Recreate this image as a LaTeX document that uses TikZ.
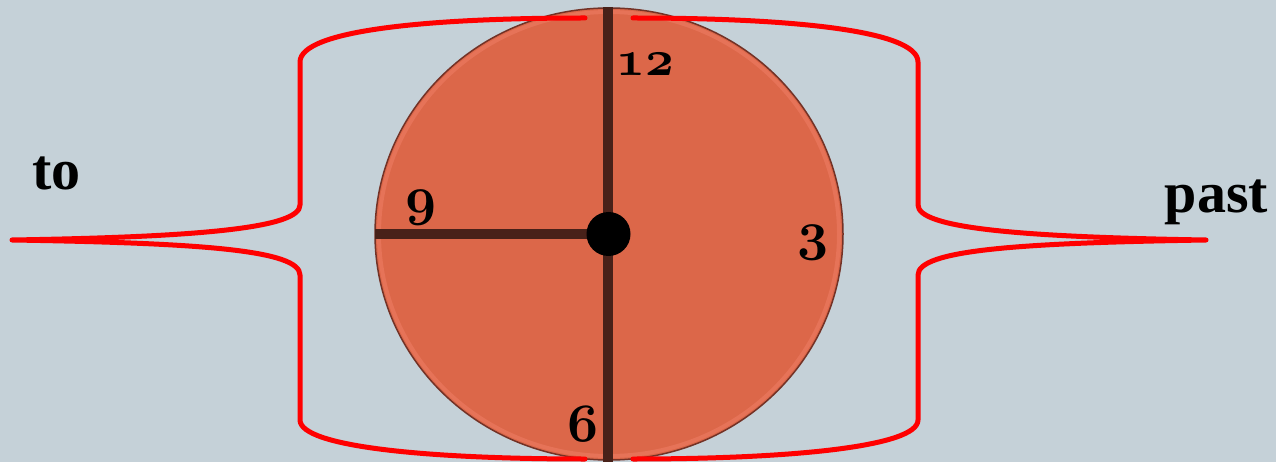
\RequirePackage{fix-cm}
\documentclass[tikz,border=0pt]{standalone}
\usepackage{fontspec}
\newfontfamily\lserif{Liberation Serif}
\definecolor{bgc}{RGB}{197,209,216}
\definecolor{facec}{RGB}{220,103,73}
\definecolor{facering}{RGB}{230,115,88}
\definecolor{rimc}{RGB}{115,50,38}
\definecolor{handc}{RGB}{72,33,25}
\definecolor{bracec}{RGB}{255,0,0}
\newcommand{\osdig}[2][54]{{\fontencoding{OML}\fontfamily{cmm}\fontseries{b}\fontshape{it}\fontsize{#1}{#1}\selectfont #2}}
\tikzset{
  wordlabel/.style={inner sep=0pt, anchor=base, font=\lserif\bfseries\fontsize{58}{60}\selectfont},
  diglabel/.style={inner sep=0pt, anchor=south},
  bracepath/.style={draw=bracec, line width=5pt, line cap=round, line join=round},
  handline/.style={draw=handc, line width=10pt},
}
\begin{document}
\begin{tikzpicture}[x=1pt,y=-1pt]
\useasboundingbox (0,0) rectangle (1276,462);
\fill[bgc] (0,0) rectangle (1276,462);
% clock face
\coordinate (ctr) at (609,234);
\fill[facec] (ctr) ellipse [x radius=234, y radius=226];
\draw[facering, line width=4pt] (ctr) ellipse [x radius=230, y radius=222];
\draw[rimc, line width=1.5pt] (ctr) ellipse [x radius=234, y radius=226];
% braces
\coordinate (ltop) at (585,18);
\coordinate (lbot) at (585,459);
\coordinate (ltip) at (12,240);
\coordinate (rtop) at (633,18);
\coordinate (rbot) at (633,459);
\coordinate (rtip) at (1206,240);
\draw[bracepath] (ltop) .. controls (430,18) and (300,30) .. (300,62) -- (300,205)
  .. controls (300,228) and (200,237) .. (ltip)
  .. controls (200,243) and (300,250) .. (300,275) -- (300,420)
  .. controls (300,447) and (430,459) .. (lbot);
\draw[bracepath] (rtop) .. controls (788,18) and (918,30) .. (918,62) -- (918,205)
  .. controls (918,228) and (1018,237) .. (rtip)
  .. controls (1018,243) and (918,250) .. (918,275) -- (918,420)
  .. controls (918,447) and (788,459) .. (rbot);
% hands
\coordinate (htop) at (608,7);
\coordinate (hbot) at (608,462);
\coordinate (hleft) at (375,234);
\draw[handline] (htop) -- (hbot);
\draw[handline] (hleft) -- (ctr);
\fill[black] (608.5,234) circle [radius=22];
% labels
\node[wordlabel] (to) at (56.5,190) {to};
\node[wordlabel] (past) at (1216.5,213) {past};
\node[diglabel] (n12) at (645,76) {\osdig[50]{12}};
\node[diglabel] (n9) at (421.5,225) {\osdig{9}};
\node[diglabel] (n3) at (813.5,260) {\osdig{3}};
\node[diglabel] (n6) at (583.5,442) {\osdig{6}};
\end{tikzpicture}
\end{document}
